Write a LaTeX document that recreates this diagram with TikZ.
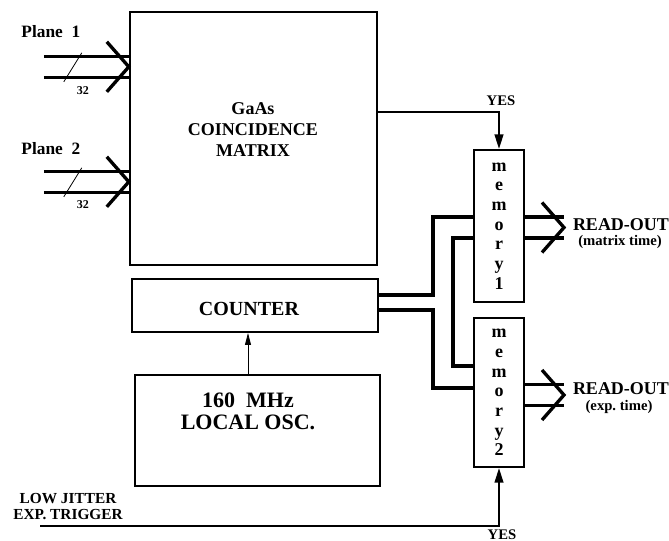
\documentclass[tikz,border=0pt]{standalone}
\usepackage{fontspec}
\setmainfont{Liberation Serif}
\usetikzlibrary{calc,arrows.meta,positioning}
\newcommand{\BusArrow}[2]{%
  \draw[bus] ($(#1)+(-#2,-10.5)$) -- ++(#2,0);
  \draw[bus] ($(#1)+(-#2,10.5)$) -- ++(#2,0);
  \draw[bus] ($(#1)+(-22,-25)$) -- (#1) -- ($(#1)+(-22,25)$);}

\begin{document}
\begin{tikzpicture}[x=0.75pt,y=-0.75pt,line join=miter,line cap=butt,
  box/.style={draw,line width=1.5pt,inner sep=0pt},
  bus/.style={line width=2.5pt},
  wire/.style={line width=1.8pt},
  fine/.style={line width=0.6pt},
  lbl/.style={font=\bfseries\fontsize{13.5}{16}\selectfont,align=center,inner sep=0pt},
  smalllbl/.style={font=\bfseries\fontsize{11}{12}\selectfont,align=center,inner sep=0pt},
  memtxt/.style={font=\bfseries\fontsize{13.5}{14.8}\selectfont,align=center},
  yesarrow/.style={-{Triangle[length=11pt,width=6.5pt]}}]
  \useasboundingbox (0,0) rectangle (669,541);

  % blocks
  \node[box,line width=1.8pt,minimum width=185.25pt,minimum height=189.75pt] (matrix) at (253.5,138.5) {};
  \node[lbl] (matrixtxt) at (253,129.5) {GaAs\\COINCIDENCE\\MATRIX};
  \node[box,minimum width=184.5pt,minimum height=39.75pt] (counter) at (255,305.5) {};
  \node[lbl,font=\bfseries\fontsize{15}{18}\selectfont] (countertxt) at (249,309) {COUNTER};
  \node[box,minimum width=183.75pt,minimum height=83.25pt] (osc) at (257.5,430.5) {};
  \node[lbl,font=\bfseries\fontsize{16.5}{16.5}\selectfont] (osctxt) at (248,411) {160~~MHz\\LOCAL OSC.};
  \node[box,memtxt,minimum width=37.5pt,minimum height=114pt] (mem1) at (499,226) {m\\e\\m\\o\\r\\y\\1};
  \node[box,memtxt,minimum width=37.5pt,minimum height=111.75pt] (mem2) at (499,392.5) {m\\e\\m\\o\\r\\y\\2};

  % plane inputs
  \coordinate (in1) at ($(matrix.north west)+(0,56)$);
  \coordinate (in2) at ($(matrix.north west)+(0,171)$);
  \BusArrow{in1}{85}
  \BusArrow{in2}{85}
  \draw[fine] ($(in1)+(-65,15)$) -- ($(in1)+(-47,-14)$);
  \draw[fine] ($(in2)+(-65,15)$) -- ($(in2)+(-47,-14)$);
  \node[smalllbl,font=\bfseries\fontsize{9}{10}\selectfont] (bits1) at ($(in1)+(-46,24)$) {32};
  \node[smalllbl,font=\bfseries\fontsize{9}{10}\selectfont] (bits2) at ($(in2)+(-46,23)$) {32};
  \node[lbl,font=\bfseries\fontsize{13}{16}\selectfont] (plane1) at ($(in1)+(-78,-35)$) {Plane~~1};
  \node[lbl,font=\bfseries\fontsize{13}{16}\selectfont] (plane2) at ($(in2)+(-78,-33)$) {Plane~~2};

  % read-out
  \coordinate (out1) at ($(mem1.north east)+(39,78.5)$);
  \coordinate (out2) at ($(mem2.north east)+(39,78)$);
  \BusArrow{out1}{39}
  \BusArrow{out2}{39}
  \node[lbl] (ro1) at ($(out1)+(57,-2.5)$) {READ-OUT};
  \node[smalllbl] (ro1t) at ($(out1)+(56,14.5)$) {(matrix time)};
  \node[lbl] (ro2) at ($(out2)+(57,-6)$) {READ-OUT};
  \node[smalllbl] (ro2t) at ($(out2)+(55,12)$) {(exp.\ time)};

  % coincidence yes
  \coordinate (ybend) at ($(mem1.north)+(0,-37)$);
  \draw[wire,yesarrow] (ybend -| matrix.east) -- (ybend) -- (mem1.north);
  \node[smalllbl] (yes1) at ($(ybend)+(2,-11)$) {YES};

  % counter buses
  \coordinate (cu) at (433,295);
  \coordinate (cl) at (433,310);
  \coordinate (bA) at (433,217);
  \coordinate (bB) at (433,388);
  \coordinate (bC) at (453,238);
  \coordinate (bD) at (453,366);
  \draw[bus] (counter.east |- cu) -- (cu) -- (bA) -- (bA -| mem1.west);
  \draw[bus] (counter.east |- cl) -- (cl) -- (bB) -- (bB -| mem2.west);
  \draw[bus] (mem1.west |- bC) -- (bC) -- (bD) -- (bD -| mem2.west);

  % clock
  \draw[fine,-{Triangle[length=9pt,width=4.5pt]}] ($(osc.north)+(-9.5,0)$) coordinate (clk) -- (clk |- counter.south);

  % trigger
  \coordinate (trig) at (40,526);
  \draw[wire,line width=1.5pt,yesarrow] (trig) -- (trig -| mem2.south) -- (mem2.south);
  \node[smalllbl,font=\bfseries\fontsize{11.5}{12}\selectfont] (trigtxt) at (68,507) {LOW JITTER\\EXP. TRIGGER};
  \node[smalllbl] (yes2) at ($(trig -| mem2.south)+(3,9)$) {YES};
\end{tikzpicture}
\end{document}
